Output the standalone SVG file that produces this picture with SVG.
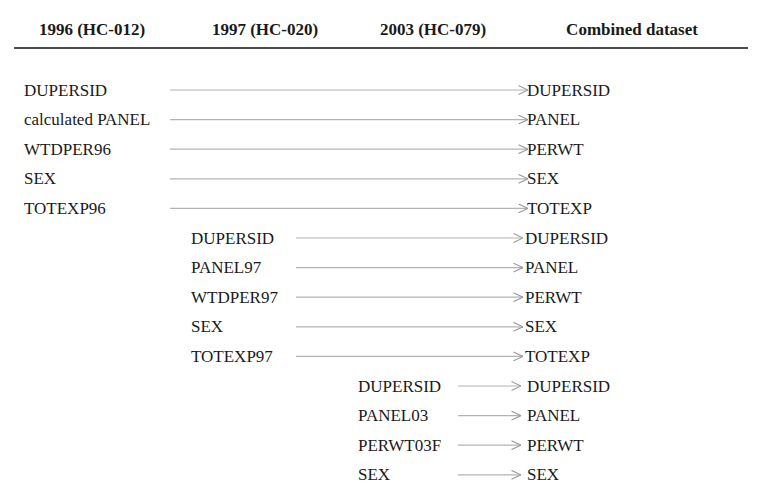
<svg xmlns="http://www.w3.org/2000/svg" width="759" height="504" viewBox="0 0 759 504">
<style>
  text { font-family: "Liberation Serif", "Times New Roman", serif; font-size: 17px; fill: #1a1a1a; }
  .hdr { font-weight: bold; text-anchor: middle; }
  .conn line { stroke: #b3b3b3; stroke-width: 1.2; fill: none; marker-end: url(#chev); }
</style>
<defs>
  <marker id="chev" viewBox="0 0 10 10" refX="10" refY="5" markerWidth="10" markerHeight="10" markerUnits="userSpaceOnUse" orient="auto">
    <path d="M0.5,0.6 L10,5 L0.5,9.4" fill="none" stroke="#9a9a9a" stroke-width="1.1"/>
  </marker>
</defs>
<rect width="759" height="504" fill="#ffffff"/>
<g id="header" font-family="Liberation Serif, serif">
  <text class="hdr" x="92" y="35">1996 (HC-012)</text>
  <text class="hdr" x="265" y="35">1997 (HC-020)</text>
  <text class="hdr" x="433" y="35">2003 (HC-079)</text>
  <text class="hdr" x="632" y="35">Combined dataset</text>
  <line x1="14" y1="48" x2="748" y2="48" stroke="#111" stroke-width="1.6"/>
</g>
<g id="col1996">
  <text x="24" y="95.6">DUPERSID</text>
  <text x="24" y="125.2">calculated PANEL</text>
  <text x="24" y="154.8">WTDPER96</text>
  <text x="24" y="184.4">SEX</text>
  <text x="24" y="214">TOTEXP96</text>
</g>
<g id="col1997">
  <text x="191" y="243.6">DUPERSID</text>
  <text x="191" y="273.2">PANEL97</text>
  <text x="191" y="302.8">WTDPER97</text>
  <text x="191" y="332.4">SEX</text>
  <text x="191" y="362">TOTEXP97</text>
</g>
<g id="col2003">
  <text x="358" y="391.6">DUPERSID</text>
  <text x="358" y="421.2">PANEL03</text>
  <text x="358" y="450.8">PERWT03F</text>
  <text x="358" y="480.4">SEX</text>
</g>
<g id="combined">
  <text x="527" y="95.6">DUPERSID</text>
  <text x="527" y="125.2">PANEL</text>
  <text x="527" y="154.8">PERWT</text>
  <text x="527" y="184.4">SEX</text>
  <text x="527" y="214">TOTEXP</text>
  <text x="525" y="243.6">DUPERSID</text>
  <text x="525" y="273.2">PANEL</text>
  <text x="525" y="302.8">PERWT</text>
  <text x="525" y="332.4">SEX</text>
  <text x="525" y="362">TOTEXP</text>
  <text x="527" y="391.6">DUPERSID</text>
  <text x="527" y="421.2">PANEL</text>
  <text x="527" y="450.8">PERWT</text>
  <text x="527" y="480.4">SEX</text>
</g>
<g id="connectors" class="conn">
  <line x1="170" y1="90" x2="528" y2="90"/>
  <line x1="170" y1="119.6" x2="528" y2="119.6"/>
  <line x1="170" y1="149.2" x2="528" y2="149.2"/>
  <line x1="170" y1="178.8" x2="528" y2="178.8"/>
  <line x1="170" y1="208.4" x2="528" y2="208.4"/>
  <line x1="296" y1="238" x2="523" y2="238"/>
  <line x1="296" y1="267.6" x2="523" y2="267.6"/>
  <line x1="296" y1="297.2" x2="523" y2="297.2"/>
  <line x1="296" y1="326.8" x2="523" y2="326.8"/>
  <line x1="296" y1="356.4" x2="523" y2="356.4"/>
  <line x1="458" y1="386" x2="521" y2="386"/>
  <line x1="458" y1="415.6" x2="521" y2="415.6"/>
  <line x1="458" y1="445.2" x2="521" y2="445.2"/>
  <line x1="458" y1="474.8" x2="521" y2="474.8"/>
</g>
</svg>
